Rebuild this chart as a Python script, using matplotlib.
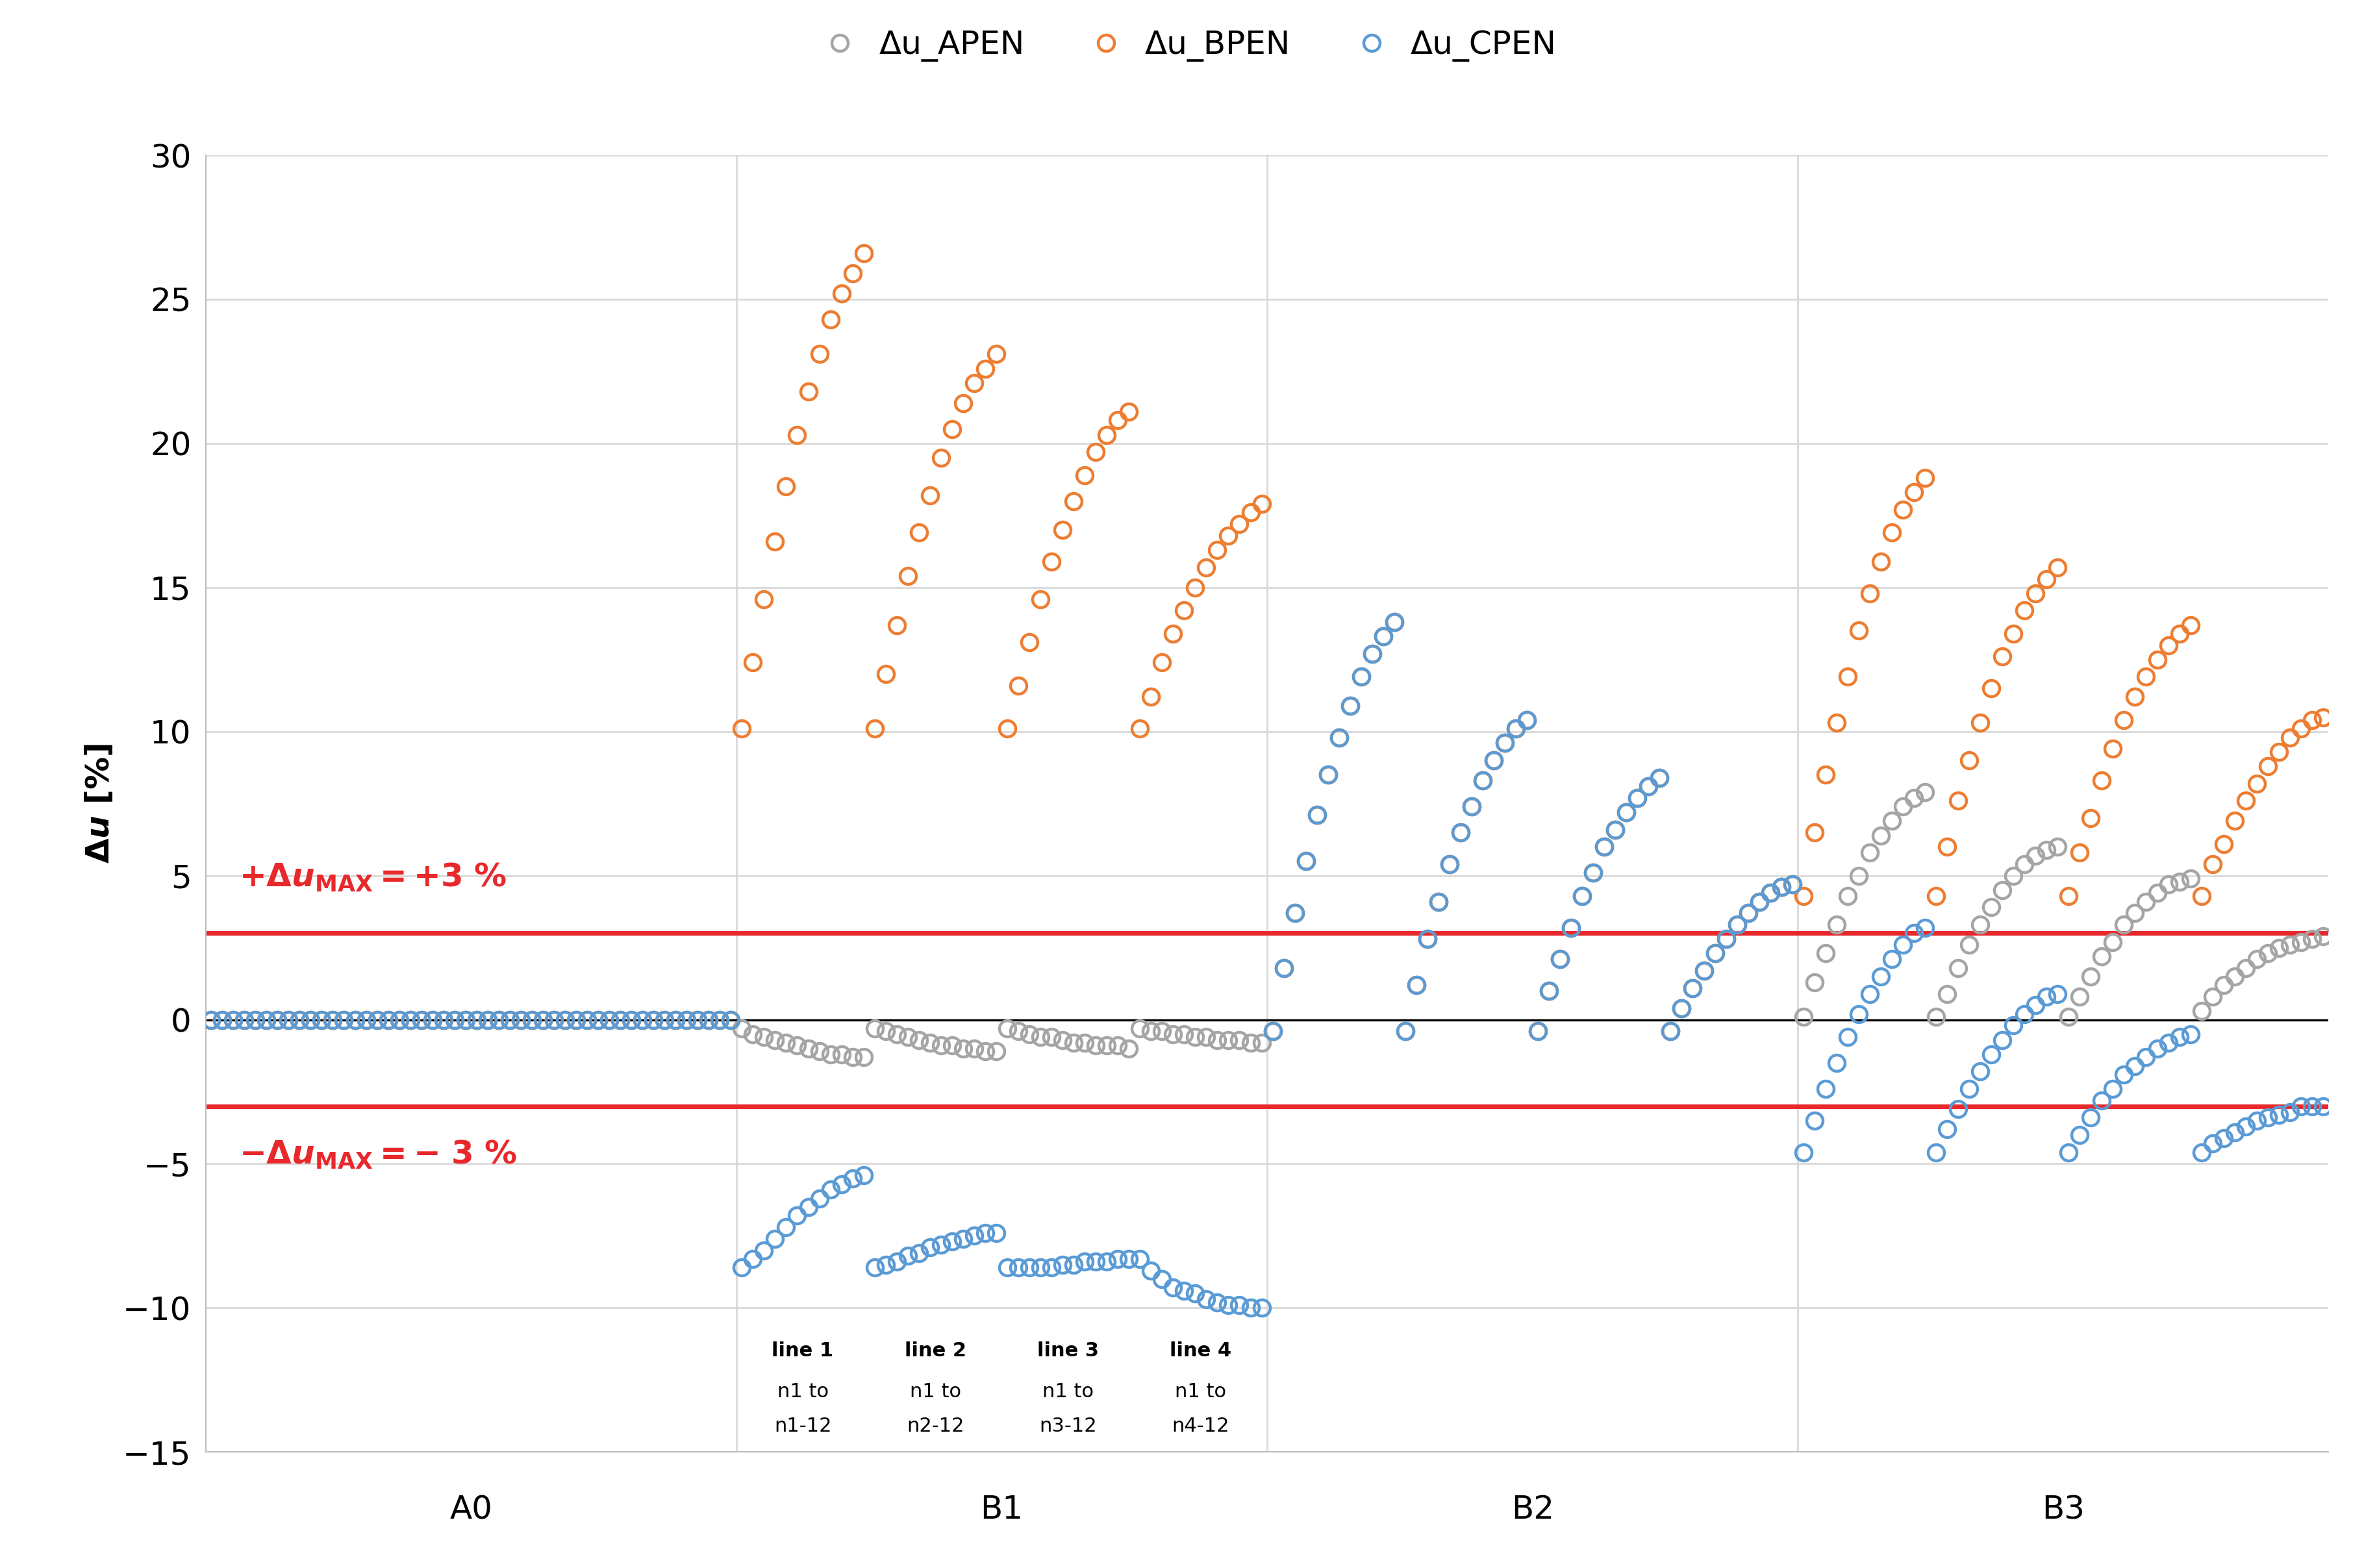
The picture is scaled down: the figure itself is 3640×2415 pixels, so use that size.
import matplotlib
matplotlib.use("Agg")
import matplotlib.pyplot as plt
import numpy as np

sections = ["A0", "B1", "B2", "B3"]
line_labels = ["line 1\nn1 to\nn1-12", "line 2\nn1 to\nn2-12", "line 3\nn1 to\nn3-12", "line 4\nn1 to\nn4-12"]
yticks = [-15, -10, -5, 0, 5, 10, 15, 20, 25, 30]

A0 = [0.0] * 48
B1_A = [-0.3,-0.5,-0.6,-0.7,-0.8,-0.9,-1.0,-1.1,-1.2,-1.2,-1.3,-1.3,
        -0.3,-0.4,-0.5,-0.6,-0.7,-0.8,-0.9,-0.9,-1.0,-1.0,-1.1,-1.1,
        -0.3,-0.4,-0.5,-0.6,-0.6,-0.7,-0.8,-0.8,-0.9,-0.9,-0.9,-1.0,
        -0.3,-0.4,-0.4,-0.5,-0.5,-0.6,-0.6,-0.7,-0.7,-0.7,-0.8,-0.8]
B1_B = [10.1,12.4,14.6,16.6,18.5,20.3,21.8,23.1,24.3,25.2,25.9,26.6,
        10.1,12.0,13.7,15.4,16.9,18.2,19.5,20.5,21.4,22.1,22.6,23.1,
        10.1,11.6,13.1,14.6,15.9,17.0,18.0,18.9,19.7,20.3,20.8,21.1,
        10.1,11.2,12.4,13.4,14.2,15.0,15.7,16.3,16.8,17.2,17.6,17.9]
B1_C = [-8.6,-8.3,-8.0,-7.6,-7.2,-6.8,-6.5,-6.2,-5.9,-5.7,-5.5,-5.4,
        -8.6,-8.5,-8.4,-8.2,-8.1,-7.9,-7.8,-7.7,-7.6,-7.5,-7.4,-7.4,
        -8.6,-8.6,-8.6,-8.6,-8.6,-8.5,-8.5,-8.4,-8.4,-8.4,-8.3,-8.3,
        -8.3,-8.7,-9.0,-9.3,-9.4,-9.5,-9.7,-9.8,-9.9,-9.9,-10.0,-10.0]
B2_all = [-0.4,1.8,3.7,5.5,7.1,8.5,9.8,10.9,11.9,12.7,13.3,13.8,
          -0.4,1.2,2.8,4.1,5.4,6.5,7.4,8.3,9.0,9.6,10.1,10.4,
          -0.4,1.0,2.1,3.2,4.3,5.1,6.0,6.6,7.2,7.7,8.1,8.4,
          -0.4,0.4,1.1,1.7,2.3,2.8,3.3,3.7,4.1,4.4,4.6,4.7]
B3_A = [0.1,1.3,2.3,3.3,4.3,5.0,5.8,6.4,6.9,7.4,7.7,7.9,
        0.1,0.9,1.8,2.6,3.3,3.9,4.5,5.0,5.4,5.7,5.9,6.0,
        0.1,0.8,1.5,2.2,2.7,3.3,3.7,4.1,4.4,4.7,4.8,4.9,
        0.3,0.8,1.2,1.5,1.8,2.1,2.3,2.5,2.6,2.7,2.8,2.9]
B3_B = [4.3,6.5,8.5,10.3,11.9,13.5,14.8,15.9,16.9,17.7,18.3,18.8,
        4.3,6.0,7.6,9.0,10.3,11.5,12.6,13.4,14.2,14.8,15.3,15.7,
        4.3,5.8,7.0,8.3,9.4,10.4,11.2,11.9,12.5,13.0,13.4,13.7,
        4.3,5.4,6.1,6.9,7.6,8.2,8.8,9.3,9.8,10.1,10.4,10.5]
B3_C = [-4.6,-3.5,-2.4,-1.5,-0.6,0.2,0.9,1.5,2.1,2.6,3.0,3.2,
        -4.6,-3.8,-3.1,-2.4,-1.8,-1.2,-0.7,-0.2,0.2,0.5,0.8,0.9,
        -4.6,-4.0,-3.4,-2.8,-2.4,-1.9,-1.6,-1.3,-1.0,-0.8,-0.6,-0.5,
        -4.6,-4.3,-4.1,-3.9,-3.7,-3.5,-3.4,-3.3,-3.2,-3.0,-3.0,-3.0]

u_APEN = A0 + B1_A + B2_all + B3_A
u_BPEN = A0 + B1_B + B2_all + B3_B
u_CPEN = A0 + B1_C + B2_all + B3_C
limit = 3

fig = plt.figure(figsize=(18.2, 12.075), dpi=200)
ax = fig.add_axes([0.087, 0.074, 0.898, 0.827])
x = np.arange(len(u_APEN))
for y, c, lab in [(u_APEN, "#A5A5A5", "Δu_APEN"), (u_BPEN, "#ED7D31", "Δu_BPEN"), (u_CPEN, "#5B9BD5", "Δu_CPEN")]:
    ax.plot(x, y, "o", mfc="none", mec=c, ms=9, mew=1.6, label=lab, zorder=3)

ax.set_xlim(-0.5, 191.5)
ax.set_ylim(-15, 30)
ax.set_yticks(yticks)
ax.set_yticklabels([str(t).replace("-", "−") for t in yticks], fontsize=18)
for t in yticks:
    ax.axhline(t, color="#D9D9D9", lw=1, zorder=0)
for b in [47.5, 95.5, 143.5]:
    ax.axvline(b, color="#D9D9D9", lw=1, zorder=0)
ax.axhline(0, color="black", lw=1.2, zorder=1)
ax.axhline(limit, color="#E8282B", lw=2.5, zorder=2)
ax.axhline(-limit, color="#E8282B", lw=2.5, zorder=2)
ax.set_xticks([])
for s in ["top", "right"]:
    ax.spines[s].set_visible(False)
ax.spines["left"].set_color("#BFBFBF")
ax.spines["bottom"].set_color("#BFBFBF")
ax.tick_params(axis="y", length=0, pad=8)

for i, s in enumerate(sections):
    ax.text(i * 48 + 23.5, -17.0, s, ha="center", va="center", fontsize=18)
for i, l in enumerate(line_labels):
    parts = l.split("\n")
    xc = 48 + i * 12 + 5.5
    ax.text(xc, -11.5, parts[0], ha="center", va="center", fontsize=11, fontweight="bold")
    ax.text(xc, -12.9, parts[1], ha="center", va="center", fontsize=11)
    ax.text(xc, -14.1, parts[2], ha="center", va="center", fontsize=11)

ax.text(2.5, 4.6, r"$\mathbf{+\Delta}\boldsymbol{u}_{\mathbf{MAX}}\mathbf{= +3\ \%}$", color="#E8282B", fontsize=18)
ax.text(2.5, -5.0, r"$\mathbf{-\Delta}\boldsymbol{u}_{\mathbf{MAX}}\mathbf{= -\ 3\ \%}$", color="#E8282B", fontsize=18)
ax.set_ylabel(r"$\mathbf{\Delta}\boldsymbol{u}$ [%]", fontsize=18, fontweight="bold")

fig.legend(loc="upper center", bbox_to_anchor=(0.5, 1.0), ncol=3, frameon=False, fontsize=18,
           handletextpad=0.2, columnspacing=1.5)
fig.savefig("out.png", dpi=200)
